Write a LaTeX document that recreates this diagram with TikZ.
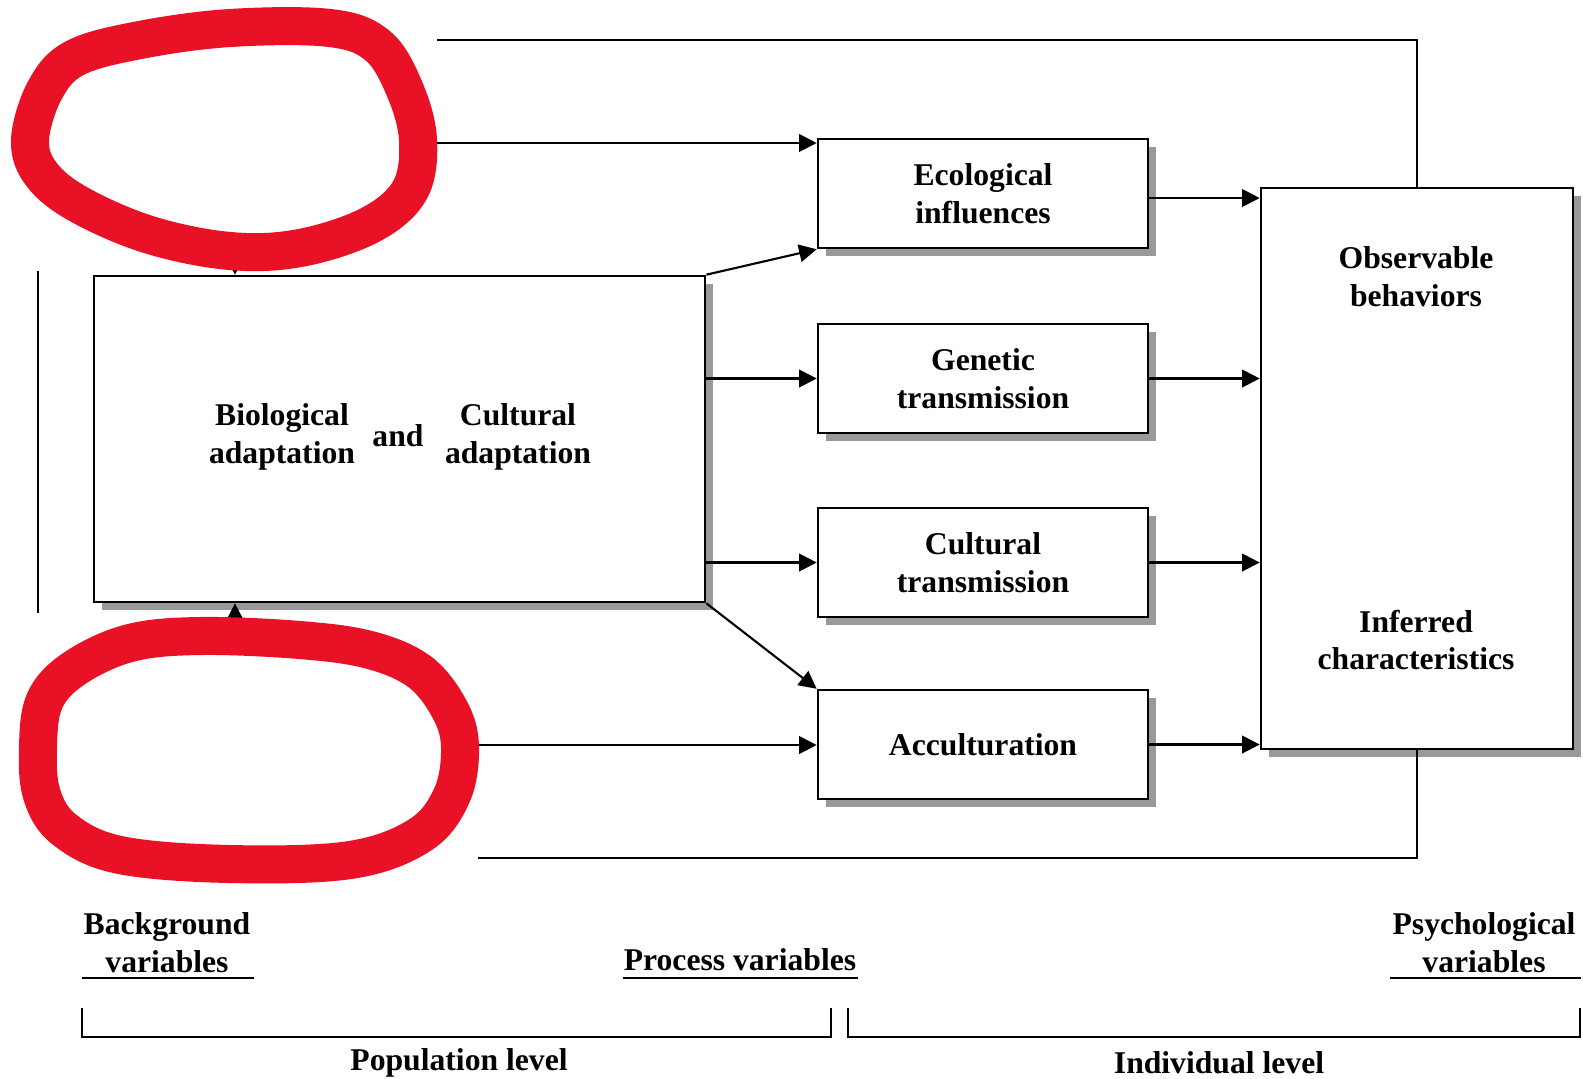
\documentclass[tikz,border=0pt]{standalone}
\usepackage{fontspec}
\setmainfont{Liberation Serif}
\usetikzlibrary{arrows.meta,shadows}
\definecolor{scribred}{RGB}{232,17,38}

\tikzset{
  box/.style={draw,line width=0.7pt,fill=white,inner sep=0pt,align=center,
    font=\fontsize{9}{10.8}\selectfont\bfseries,
    drop shadow={shadow xshift=0.08cm,shadow yshift=-0.08cm,fill=black!40,opacity=1}},
  lbl/.style={font=\fontsize{9}{10.8}\selectfont\bfseries,align=center,inner sep=0pt},
  arr/.style={-{Triangle[length=5pt,width=5pt]}},
  wire/.style={line width=0.6pt},
  scribble/.style={draw=scribred,fill=white,line width=0.38cm,line join=round}
}

\begin{document}
\begin{tikzpicture}[x=0.01cm,y=-0.01cm]
\useasboundingbox (0,0) rectangle (1583,1078);

\node[box,minimum width=6.11cm,minimum height=3.26cm] (adapt) at (399.5,439) {};
\node[box,minimum width=3.30cm,minimum height=1.09cm] (eco) at (983,193.5) {Ecological\\influences};
\node[box,minimum width=3.30cm,minimum height=1.09cm] (gen) at (983,378.5) {Genetic\\transmission};
\node[box,minimum width=3.30cm,minimum height=1.09cm] (cul) at (983,562.5) {Cultural\\transmission};
\node[box,minimum width=3.30cm,minimum height=1.09cm] (acc) at (983,744.5) {Acculturation};
\node[box,minimum width=3.12cm,minimum height=5.61cm] (psych) at (1417,468.5) {};

\node[lbl] (bio) at (282,437) {Biological\\adaptation};
\node[lbl] (andw) at (398,436) {and};
\node[lbl] (cula) at (518,437) {Cultural\\adaptation};
\node[lbl] (obs) at (1416,277) {Observable\\behaviors};
\node[lbl] (inf) at (1416,640) {Inferred\\characteristics};

\coordinate (ctxA) at (437,40);
\coordinate (ctxB) at (437,143);
\coordinate (ctxC) at (235,200);
\coordinate (ctxD) at (235,690);
\coordinate (ctxE) at (478,745);
\coordinate (ctxF) at (478,858);

\draw[wire] (ctxA) -| (psych.north);
\draw[wire] (ctxF) -| (psych.south);
\draw[wire,arr] (ctxB) -- (ctxB -| eco.west);
\draw[wire,arr] (ctxC) -- (ctxC |- adapt.north);
\draw[wire,arr] (ctxD) -- (ctxD |- adapt.south);
\draw[wire,arr] (ctxE) -- (ctxE -| acc.west);

\draw[wire,arr] (adapt.north east) -- (eco.south west);
\draw[wire,arr] (adapt.east |- gen.west) -- (gen.west);
\draw[wire,arr] (adapt.east |- cul.west) -- (cul.west);
\draw[wire,arr] (adapt.south east) -- (acc.north west);

\draw[wire,arr] ([yshift=-0.045cm]eco.east) -- ([yshift=-0.045cm]eco.east -| psych.west);
\foreach \b in {gen,cul,acc}
  \draw[wire,arr] (\b.east) -- (\b.east -| psych.west);

\draw[wire] (38,271) -- (38,613);

\draw[scribble] plot[smooth cycle,tension=0.6] coordinates {(30,140) (45,90) (75,58) (140,40) (230,28) (330,28) (378,46) (405,90) (418,140) (410,190) (370,225) (300,248) (230,251) (150,235) (80,205) (42,175)};
\draw[scribble] plot[smooth cycle,tension=0.6] coordinates {(38,747) (45,700) (75,668) (130,643) (200,636) (300,640) (370,650) (420,672) (450,710) (460,747) (452,795) (420,835) (350,860) (230,864) (120,855) (65,830) (42,795)};

\node[lbl] (bgvar) at (167,943) {Background\\variables};
\node[lbl] (prvar) at (740,960) {Process variables};
\node[lbl] (psvar) at (1484,943) {Psychological\\variables};
\draw[line width=0.8pt] (82,978) -- (254,978);
\draw[line width=0.8pt] (623,978) -- (858,978);
\draw[line width=0.8pt] (1390,978) -- (1581,978);

\draw[line width=0.8pt] (82,1008) |- (831,1037) -- (831,1008);
\draw[line width=0.8pt] (848,1008) |- (1580,1037) -- (1580,1008);
\node[lbl] (poplvl) at (459,1063) {Population level};
\node[lbl] (indlvl) at (1219,1063) {Individual level};
\end{tikzpicture}
\end{document}
